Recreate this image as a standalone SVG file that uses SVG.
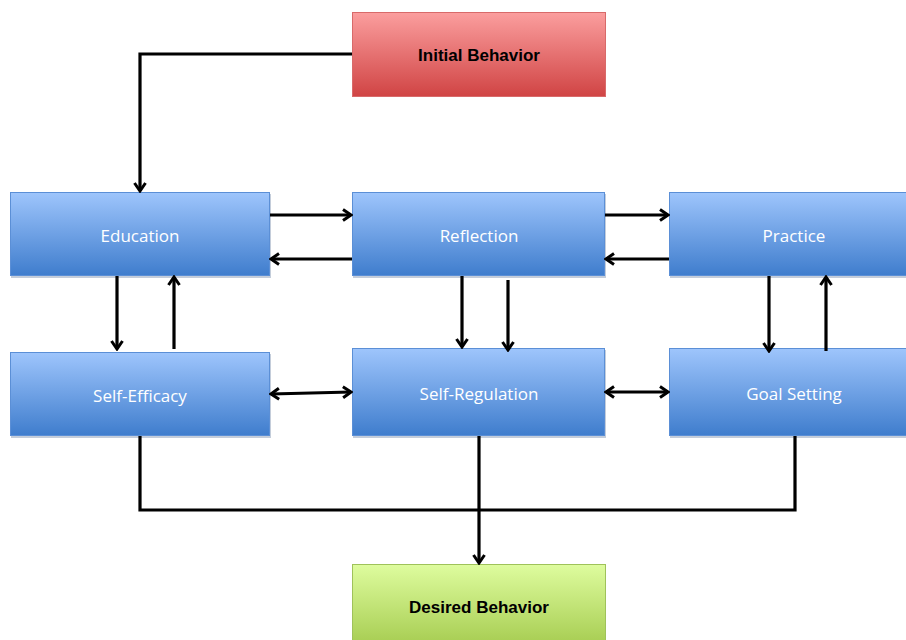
<svg xmlns="http://www.w3.org/2000/svg" width="906" height="640" viewBox="0 0 906 640">
<defs>
<linearGradient id="gBlue" x1="0" y1="0" x2="0" y2="1"><stop offset="0" stop-color="#9ec5fc"/><stop offset="1" stop-color="#3f7dcd"/></linearGradient>
<linearGradient id="gRed" x1="0" y1="0" x2="0" y2="1"><stop offset="0" stop-color="#fb9e9e"/><stop offset="1" stop-color="#d04444"/></linearGradient>
<linearGradient id="gGreen" x1="0" y1="0" x2="0" y2="1"><stop offset="0" stop-color="#defc9e"/><stop offset="1" stop-color="#a7cd52"/></linearGradient>
<marker id="ah" viewBox="0 0 14 14" refX="12" refY="7" markerWidth="14" markerHeight="14" markerUnits="userSpaceOnUse" orient="auto-start-reverse">
<path d="M4,1.5 L12,7 L4,12.5" fill="none" stroke="#000" stroke-width="3"/>
</marker>
</defs>
<style>
.blue{fill:url(#gBlue);stroke:#5b8fd6;stroke-width:1}
.red{fill:url(#gRed);stroke:#d86a6a;stroke-width:1}
.green{fill:url(#gGreen);stroke:#9fc25a;stroke-width:1}
.shadow{fill:#8a9cb5;opacity:0.5}
.lbl{font-family:"Open Sans","Liberation Sans",sans-serif;font-size:17px;fill:#fff;text-anchor:middle}
.blbl{font-family:"Liberation Sans",Arial,sans-serif;font-size:17px;font-weight:bold;fill:#000;text-anchor:middle}
.c{fill:none;stroke:#000;stroke-width:3.2}
</style>
<rect width="906" height="640" fill="#fff"/>
<g id="initial">
<rect class="red" x="352.5" y="12.5" width="253" height="84"/>
<text class="blbl" x="479" y="61">Initial Behavior</text>
</g>
<g id="education">
<rect class="shadow" x="11" y="194" width="260" height="84"/>
<rect class="blue" x="10.5" y="192.5" width="259" height="83"/>
<text class="lbl" x="140" y="242">Education</text>
</g>
<g id="reflection">
<rect class="shadow" x="353" y="194" width="253" height="84"/>
<rect class="blue" x="352.5" y="192.5" width="252" height="83"/>
<text class="lbl" x="479" y="242">Reflection</text>
</g>
<g id="practice">
<rect class="shadow" x="670" y="194" width="240" height="84"/>
<rect class="blue" x="669.5" y="192.5" width="240" height="83"/>
<text class="lbl" x="794" y="242">Practice</text>
</g>
<g id="self-efficacy">
<rect class="shadow" x="11" y="354" width="260" height="84"/>
<rect class="blue" x="10.5" y="352.5" width="259" height="83"/>
<text class="lbl" x="140" y="402">Self-Efficacy</text>
</g>
<g id="self-regulation">
<rect class="shadow" x="353" y="350" width="253" height="88"/>
<rect class="blue" x="352.5" y="348.5" width="252" height="87"/>
<text class="lbl" x="479" y="400">Self-Regulation</text>
</g>
<g id="goal-setting">
<rect class="shadow" x="670" y="350" width="240" height="88"/>
<rect class="blue" x="669.5" y="348.5" width="240" height="87"/>
<text class="lbl" x="794" y="400">Goal Setting</text>
</g>
<g id="desired">
<rect class="green" x="352.5" y="564.5" width="253" height="80"/>
<text class="blbl" x="479" y="613">Desired Behavior</text>
</g>
<g id="connectors">
<path class="c" d="M352,54 H140 V191" marker-end="url(#ah)"/>
<path class="c" d="M270,215 H351" marker-end="url(#ah)"/>
<path class="c" d="M352,259 H271" marker-end="url(#ah)"/>
<path class="c" d="M605,215 H668" marker-end="url(#ah)"/>
<path class="c" d="M669,259 H606" marker-end="url(#ah)"/>
<path class="c" d="M117,276 V349" marker-end="url(#ah)"/>
<path class="c" d="M174,349 V277" marker-end="url(#ah)"/>
<path class="c" d="M462,276 V347" marker-end="url(#ah)"/>
<path class="c" d="M508,280 V350" marker-end="url(#ah)"/>
<path class="c" d="M769,276 V351" marker-end="url(#ah)"/>
<path class="c" d="M826,351 V277" marker-end="url(#ah)"/>
<path class="c" d="M271,394 L351,392" marker-start="url(#ah)" marker-end="url(#ah)"/>
<path class="c" d="M606,392 H668" marker-start="url(#ah)" marker-end="url(#ah)"/>
<path class="c" d="M140,436 V510 H795 V436"/>
<path class="c" d="M479,436 V563" marker-end="url(#ah)"/>
</g>
</svg>
